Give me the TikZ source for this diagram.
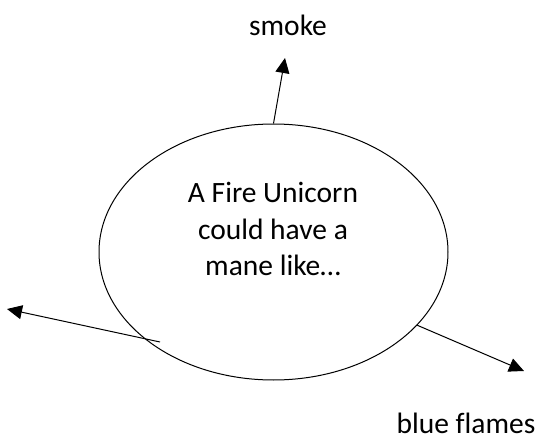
\documentclass[tikz,border=0pt]{standalone}
\usepackage{fontspec}
\setmainfont{Carlito}[Ligatures=CommonOff]
\usetikzlibrary{positioning}
\usetikzlibrary{shapes.geometric}
\usetikzlibrary{arrows.meta}

\tikzset{
bubble/.style={draw=black, ellipse, line width=1pt, minimum width=349pt, minimum height=256pt, inner sep=0pt},
word/.style={font=\fontsize{29.5}{36.5}\selectfont, inner sep=0pt},
pointer/.style={black, line width=1pt, -{Triangle[length=15pt,width=14pt]}}
}

\begin{document}
\begin{tikzpicture}[x=1pt,y=-1pt]

\useasboundingbox (0,0) rectangle (539,439);

\node[bubble] (mane) at (273.5,252) {};
\node[word, align=center] (idea) at (273,229) {A Fire Unicorn\\could have a\\mane like…};

\node[word, anchor=base] (smoke) at (288,35) {smoke};
\node[word, anchor=base] (blue) at (466,433) {blue flames};

\coordinate (smoketip) at (285,58);
\coordinate (flametip) at (524,371);
\coordinate (lefttail) at (160,342);
\coordinate (lefttip) at (7,309);

\draw[pointer] (mane.north) -- (smoketip);
\draw[pointer] (mane.-27) -- (flametip);
\draw[pointer] (lefttail) -- (lefttip);

\end{tikzpicture}
\end{document}
